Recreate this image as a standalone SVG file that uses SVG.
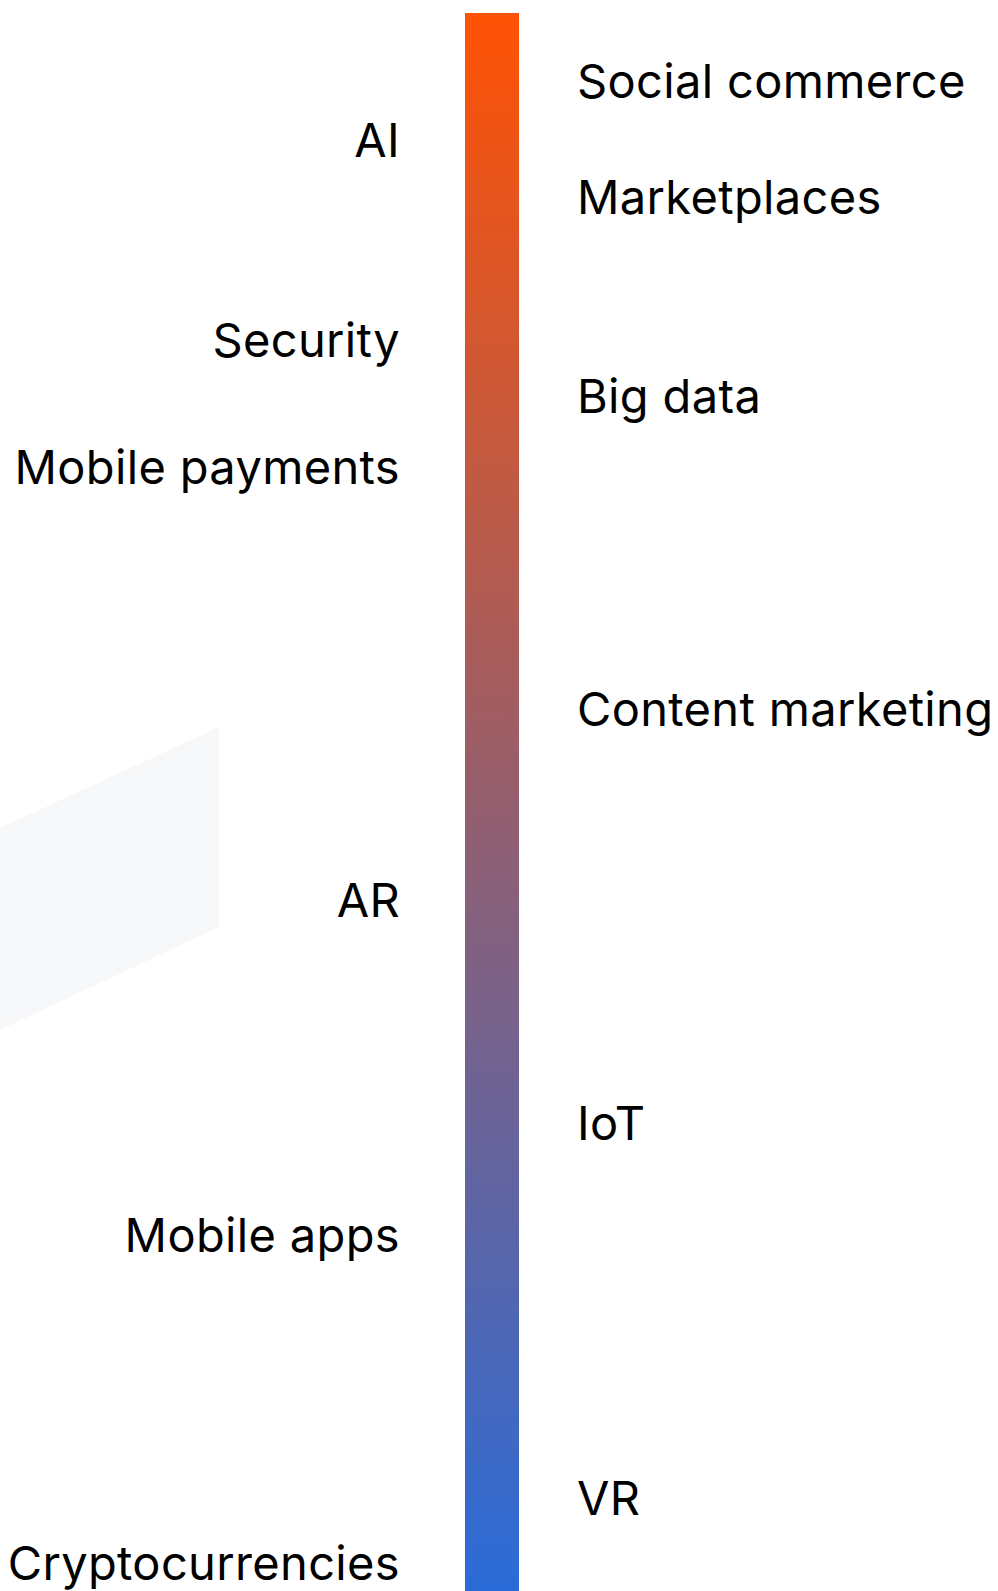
<svg xmlns="http://www.w3.org/2000/svg" width="998" height="1591" viewBox="0 0 998 1591">
  <defs>
    <linearGradient id="barGrad" x1="0" y1="0" x2="0" y2="1">
      <stop offset="0" stop-color="#ff5204"/>
      <stop offset="1" stop-color="#2a6bd8"/>
    </linearGradient>
    <style>
      .lbl { font-family: Inter, "Noto Sans", "Liberation Sans", sans-serif; font-size: 47px; letter-spacing: 0.35px; fill: #000; }
      .left { text-anchor: end; }
      .right { text-anchor: start; }
    </style>
  </defs>

  <rect width="998" height="1591" fill="#ffffff"/>

  <!-- pale backdrop shape -->
  <polygon id="backdrop" points="0,828 219,727 219,927 0,1030" fill="#f7f8fa"/>

  <!-- timeline bar -->
  <g id="bar">
    <rect x="465" y="13" width="54" height="1578" fill="url(#barGrad)"/>
  </g>

  <!-- left-side labels -->
  <g id="ai"><text class="lbl left" x="400" y="157">AI</text></g>
  <g id="security"><text class="lbl left" x="400" y="357">Security</text></g>
  <g id="mobile-payments"><text class="lbl left" x="400" y="484">Mobile payments</text></g>
  <g id="ar"><text class="lbl left" x="400" y="917">AR</text></g>
  <g id="mobile-apps"><text class="lbl left" x="400" y="1252">Mobile apps</text></g>
  <g id="cryptocurrencies"><text class="lbl left" x="400" y="1580">Cryptocurrencies</text></g>

  <!-- right-side labels -->
  <g id="social-commerce"><text class="lbl right" x="577" y="98">Social commerce</text></g>
  <g id="marketplaces"><text class="lbl right" x="577" y="214">Marketplaces</text></g>
  <g id="big-data"><text class="lbl right" x="577" y="413">Big data</text></g>
  <g id="content-marketing"><text class="lbl right" x="577" y="726">Content marketing</text></g>
  <g id="iot"><text class="lbl right" x="577" y="1140">IoT</text></g>
  <g id="vr"><text class="lbl right" x="577" y="1515">VR</text></g>
</svg>
